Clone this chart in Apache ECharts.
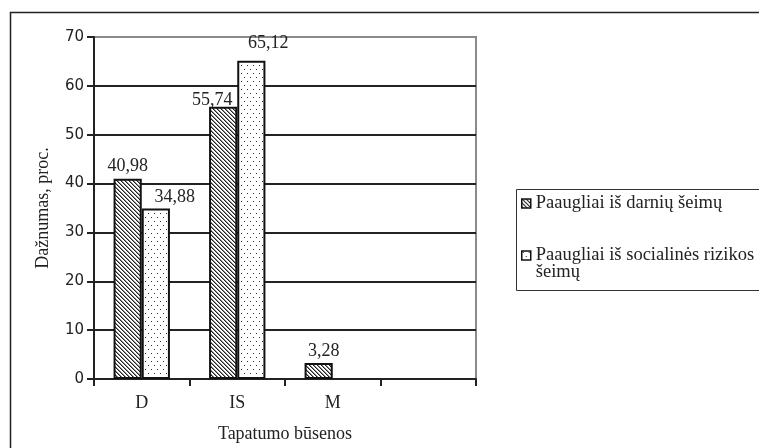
<!DOCTYPE html>
<html>
<head>
<meta charset="utf-8">
<script src="https://cdn.jsdelivr.net/npm/echarts@6/dist/echarts.min.js"></script>
<style>
html,body{margin:0;padding:0;background:#fff;}
#chart{width:759px;height:448px;}
</style>
</head>
<body>
<div id="chart"></div>
<script>
const categories = ['D', 'IS', 'M', ''];
const seriesNames = ['Paaugliai iš darnių šeimų', 'Paaugliai iš socialinės rizikos šeimų'];
const darniu = [40.98, 55.74, 3.28, null];
const rizikos = [34.88, 65.12, null, null];
const yTicks = [0, 10, 20, 30, 40, 50, 60, 70];

// label nudges (styling only), as placed in the original figure
const darniuLabelOffsets = [[0, 1], [-11, 8], [5, 2], [0, 0]];
const rizikosLabelOffsets = [[19, 3], [17, -4], [0, 0], [0, 0]];

function makeHatch() {
  const c = document.createElement('canvas');
  c.width = 4; c.height = 4;
  const g = c.getContext('2d');
  g.fillStyle = '#fff'; g.fillRect(0, 0, 4, 4);
  for (let i = 0; i < 4; i++) {
    g.fillStyle = '#222';
    g.fillRect(i, i, 1, 1);
    g.fillStyle = '#8a8a8a';
    g.fillRect((i + 1) % 4, i, 1, 1);
  }
  return c;
}
function makeDots() {
  const c = document.createElement('canvas');
  c.width = 6; c.height = 8;
  const g = c.getContext('2d');
  g.fillStyle = '#fff'; g.fillRect(0, 0, 6, 8);
  g.fillStyle = '#333';
  g.fillRect(1, 1, 1, 1);
  g.fillRect(4, 5, 1, 1);
  return c;
}
const hatch = { image: makeHatch(), repeat: 'repeat' };
const dots = { image: makeDots(), repeat: 'repeat' };

const serif = '"Liberation Serif", "Times New Roman", serif';
const fmt = p => (p.value == null ? '' : p.value.toFixed(2).replace('.', ','));
const withOffsets = (vals, offs) => vals.map((v, i) => ({ value: v, label: { offset: offs[i] } }));

const chart = echarts.init(document.getElementById('chart'));
chart.setOption({
  animation: false,
  backgroundColor: '#fff',
  grid: { left: 94, right: 283, top: 37, bottom: 68, show: true, borderColor: '#8a8a8a', borderWidth: 2, backgroundColor: 'transparent' },
  xAxis: {
    type: 'category',
    data: categories,
    boundaryGap: true,
    name: 'Tapatumo būsenos',
    nameLocation: 'middle',
    nameGap: 46,
    nameTextStyle: { fontFamily: serif, fontSize: 18, color: '#222' },
    axisLine: { lineStyle: { color: '#222', width: 2 } },
    axisTick: { show: true, length: 7, alignWithLabel: false, lineStyle: { color: '#222', width: 2 } },
    axisLabel: { fontFamily: serif, fontSize: 18, color: '#222', margin: 15 },
    splitLine: { show: false }
  },
  yAxis: {
    type: 'value',
    min: yTicks[0],
    max: yTicks[yTicks.length - 1],
    interval: 10,
    name: 'Dažnumas, proc.',
    nameLocation: 'middle',
    nameGap: 42,
    nameRotate: 90,
    nameTextStyle: { fontFamily: serif, fontSize: 18, color: '#222' },
    axisLine: { show: true, lineStyle: { color: '#222', width: 2 } },
    axisTick: { show: true, length: 7, lineStyle: { color: '#222', width: 2 } },
    axisLabel: { fontFamily: '"DejaVu Sans", sans-serif', fontSize: 15, color: '#222', margin: 10 },
    splitLine: { show: true, lineStyle: { color: ['#222', '#222', '#222', '#222', '#222', '#222', '#222', '#8a8a8a'], width: 2 } }
  },
  legend: [
    {
      data: [{ name: seriesNames[0], itemStyle: { color: hatch, borderColor: '#111', borderWidth: 1.5 } }],
      orient: 'vertical', left: 521, top: 194, padding: 0,
      itemWidth: 9, itemHeight: 9, itemGap: 0,
      textStyle: { fontFamily: serif, fontSize: 18.5, color: '#222' },
      icon: 'rect'
    },
    {
      data: [{ name: seriesNames[1], itemStyle: { color: dots, borderColor: '#111', borderWidth: 1.5 } }],
      orient: 'vertical', left: 521, top: 229, padding: 0,
      itemWidth: 9, itemHeight: 9, itemGap: 0,
      formatter: () => ' \nPaaugliai iš socialinės rizikos\nšeimų',
      textStyle: { fontFamily: serif, fontSize: 18.5, color: '#222', lineHeight: 17 },
      icon: 'rect'
    }
  ],
  graphic: [
    { type: 'rect', left: 8, top: 10, shape: { width: 780, height: 460 }, style: { fill: 'none', stroke: '#222', lineWidth: 1.5 }, silent: true, z: 100 },
    { type: 'rect', left: 514, top: 187, shape: { width: 270, height: 101 }, style: { fill: 'none', stroke: '#333', lineWidth: 1 }, silent: true, z: 100 }
  ],
  series: [
    {
      name: seriesNames[0], type: 'bar', data: withOffsets(darniu, darniuLabelOffsets),
      barGap: '0%', barCategoryGap: '41%',
      itemStyle: { color: hatch, borderColor: '#111', borderWidth: 2 },
      label: { show: true, position: 'top', distance: 5, formatter: fmt, fontFamily: serif, fontSize: 18, color: '#222' }
    },
    {
      name: seriesNames[1], type: 'bar', data: withOffsets(rizikos, rizikosLabelOffsets),
      barGap: '0%', barCategoryGap: '41%',
      itemStyle: { color: dots, borderColor: '#111', borderWidth: 2 },
      label: { show: true, position: 'top', distance: 5, formatter: fmt, fontFamily: serif, fontSize: 18, color: '#222' }
    }
  ]
});
</script>
</body>
</html>
